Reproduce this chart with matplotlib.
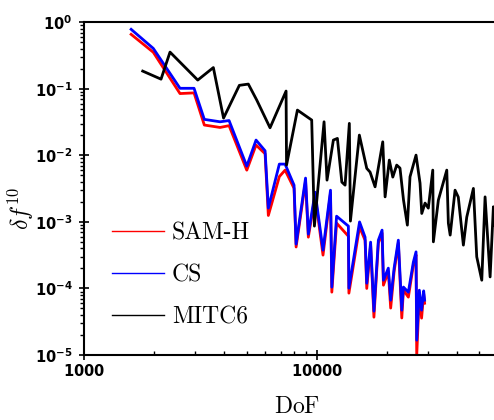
import matplotlib
matplotlib.use("Agg")
import matplotlib.pyplot as plt
from matplotlib.ticker import FuncFormatter, NullFormatter, LogLocator, FixedLocator
from matplotlib.lines import Line2D
import numpy as np

plt.rcParams['mathtext.fontset'] = 'dejavusans'

# SAM-H and CS share the same meshes
dof_shell = np.array([1590, 1980, 2580, 2965, 3283, 3837, 4195, 5000, 5480, 5994,
                      6190, 6903, 7307, 7986, 8150, 8950, 9200, 9840, 10640, 11460,
                      11610, 12170, 13680, 13750, 15280, 16140, 16410, 17050, 17620, 18410,
                      19100, 19360, 20320, 20800, 21520, 22440, 23220, 23600, 24780, 26040,
                      26740, 26920, 27630, 28250, 28840, 29110])
err_cs = np.array([0.785, 0.406, 0.102, 0.102, 0.0348, 0.0320, 0.0334, 0.0069, 0.0170, 0.01173,
                   0.001614, 0.0074, 0.0074, 0.00357, 0.000464, 0.00456, 0.000656, 0.0028, 0.000377, 0.0030,
                   0.0001047, 0.00122, 0.000865, 0.000101, 0.001, 0.00059, 0.00012, 0.000497, 0.0000456, 0.000532,
                   0.000753, 0.000133, 0.000202, 0.0000667, 0.000202, 0.000532, 0.0000472, 0.000105, 0.0000879, 0.000249,
                   0.000355, 0.0000167, 0.0000942, 0.0000472, 0.000092, 0.0000667])
err_samh = np.array([0.66, 0.355, 0.085, 0.087, 0.0286, 0.0263, 0.028, 0.0060, 0.0143, 0.0106,
                     0.00125, 0.0048, 0.0060, 0.0032, 0.00042, 0.0041, 0.00059, 0.0025, 0.000317, 0.0027,
                     0.000088, 0.00096, 0.00061, 0.000085, 0.00084, 0.00053, 0.0001, 0.00045, 0.000037, 0.00048,
                     0.00068, 0.000112, 0.00018, 0.0000507, 0.00018, 0.00048, 0.000036, 0.000095, 0.000074, 0.000224,
                     0.00032, 0.0000098, 0.000085, 0.0000358, 0.000083, 0.00006])

dof_mitc6 = np.array([1783, 2138, 2337, 3076, 3590, 3972, 4645, 5077, 5518, 6295,
                      7379, 7413, 8256, 9512, 9770, 10750, 11070, 11790, 12270, 12820,
                      13240, 13810, 13960, 15250, 16410, 16960, 17820, 19230, 19680, 20520,
                      21240, 22080, 22810, 23620, 24540, 25190, 26740, 27820, 28300, 29240,
                      30200, 31560, 31750, 33360, 36260, 36830, 37500, 39360, 40640, 42740,
                      44190, 47200, 48790, 51290, 52990, 55700, 57540, 60260])
err_mitc6 = np.array([0.185, 0.140, 0.357, 0.1356, 0.209, 0.0364, 0.113, 0.118, 0.0679, 0.026,
                      0.0927, 0.00715, 0.048, 0.034, 0.000865, 0.032, 0.00425, 0.017, 0.018, 0.00397,
                      0.00357, 0.0303, 0.00103, 0.0202, 0.00638, 0.00561, 0.00337, 0.016, 0.00238, 0.0085,
                      0.00472, 0.00715, 0.00644, 0.00213, 0.000895, 0.00477, 0.0101, 0.00383, 0.00134, 0.00192,
                      0.00161, 0.00601, 0.000502, 0.00213, 0.00601, 0.00096, 0.000634, 0.0030, 0.00236, 0.000448,
                      0.00118, 0.00319, 0.000299, 0.000133, 0.00238, 0.000149, 0.00169, 0.000265])

labels = ["SAM-H", "CS", "MITC6"]
colors = ["red", "blue", "black"]

fig = plt.figure(figsize=(4.94, 4.2), dpi=100)
# the plot box runs past the right edge of the picture
ax = fig.add_axes([0.1707, 0.1548, 0.941, 0.792])

ax.plot(dof_shell, err_samh, color=colors[0], lw=2.0)
ax.plot(dof_shell, err_cs, color=colors[1], lw=2.0)
ax.plot(dof_mitc6, err_mitc6, color=colors[2], lw=2.0)

ax.set_xscale('log')
ax.set_yscale('log')
ax.set_xlim(1000, 100000)
ax.set_ylim(1e-5, 1)

ax.xaxis.set_major_locator(FixedLocator([1000, 10000]))
ax.xaxis.set_major_formatter(FuncFormatter(lambda v, p: r'$\mathbf{%d}$' % round(v)))
ax.xaxis.set_minor_locator(LogLocator(base=10, subs=np.arange(2, 10)))
ax.xaxis.set_minor_formatter(NullFormatter())
ax.yaxis.set_major_locator(FixedLocator([1e-5, 1e-4, 1e-3, 1e-2, 1e-1, 1]))
ax.yaxis.set_major_formatter(FuncFormatter(lambda v, p: r'$\mathbf{10^{%d}}$' % round(np.log10(v))))
ax.yaxis.set_minor_locator(LogLocator(base=10, subs=np.arange(2, 10)))
ax.yaxis.set_minor_formatter(NullFormatter())

for s in ['left', 'bottom', 'top']:
    ax.spines[s].set_linewidth(1.5)
ax.tick_params(axis='x', which='major', direction='inout', length=7, width=1.2, labelsize=10.5, pad=2)
ax.tick_params(axis='x', which='minor', direction='in', length=3, width=1.0)
ax.tick_params(axis='y', which='major', direction='inout', length=7, width=1.2, labelsize=10.5, pad=5)
ax.tick_params(axis='y', which='minor', direction='out', length=3, width=1.0)

fig.text(296.7 / 494, 1 - 413 / 420, r'$\mathrm{DoF}$', math_fontfamily='cm',
         fontsize=17, ha='center', va='baseline')
fig.text(21 / 494, 1 - 209 / 420, r'$\delta f^{10}$', math_fontfamily='cm',
         fontsize=17, ha='center', va='center', rotation=90)

handles = [Line2D([], [], color=c, lw=1.0) for c in colors]
ax.legend(handles, labels, loc='upper left', bbox_to_anchor=(111.7 / 494, 1 - 222 / 420),
          bbox_transform=fig.transFigure, frameon=False, borderpad=0, borderaxespad=0,
          handlelength=2.2, handletextpad=0.35, labelspacing=0.85,
          prop={'family': 'cmr10', 'size': 17})

fig.savefig("out.png", dpi=100)
